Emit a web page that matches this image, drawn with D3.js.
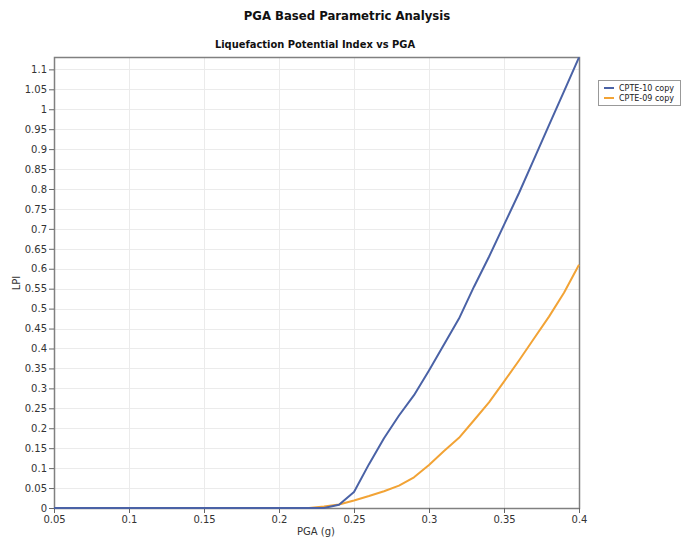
<!DOCTYPE html>
<html>
<head>
<meta charset="utf-8">
<script src="https://cdn.jsdelivr.net/npm/d3@7"></script>
<style>
  html, body { margin: 0; padding: 0; background: #fff; }
  svg { display: block; }
  .tick text { font-family: "DejaVu Sans", Verdana, sans-serif; font-size: 10px; fill: #333; }
</style>
</head>
<body>
<svg id="chart" width="682" height="543"></svg>
<script>
// PGA values (g)
const pga = [0.05, 0.06, 0.07, 0.08, 0.09, 0.10, 0.11, 0.12, 0.13, 0.14, 0.15, 0.16, 0.17, 0.18,
             0.19, 0.20, 0.21, 0.22, 0.23, 0.24, 0.25, 0.26, 0.27, 0.28, 0.29, 0.30, 0.31, 0.32,
             0.33, 0.34, 0.35, 0.36, 0.37, 0.38, 0.39, 0.40];
// LPI for each sounding
const lpiCpte10 = [0, 0, 0, 0, 0, 0, 0, 0, 0, 0, 0, 0, 0, 0,
                   0, 0, 0, 0, 0, 0.008, 0.040, 0.110, 0.175, 0.232, 0.283, 0.345, 0.410, 0.475,
                   0.555, 0.630, 0.710, 0.790, 0.875, 0.960, 1.045, 1.130];
const lpiCpte09 = [0, 0, 0, 0, 0, 0, 0, 0, 0, 0, 0, 0, 0, 0,
                   0, 0, 0, 0, 0.004, 0.009, 0.019, 0.030, 0.042, 0.056, 0.077, 0.108, 0.143, 0.176,
                   0.220, 0.265, 0.317, 0.370, 0.425, 0.480, 0.540, 0.610];
const seriesNames = ["CPTE-10 copy", "CPTE-09 copy"];
const seriesColors = ["#4a62a6", "#f2a335"];
const xTicks = [0.05, 0.1, 0.15, 0.2, 0.25, 0.3, 0.35, 0.4];
const yTicks = d3.range(0, 23).map(i => +(i * 0.05).toFixed(2));

const svg = d3.select("#chart");
const plot = { left: 54, right: 579, top: 57, bottom: 508 };

const x = d3.scaleLinear().domain([0.05, 0.4]).range([plot.left, plot.right]);
const y = d3.scaleLinear().domain([0, 1.131]).range([plot.bottom, plot.top]);

// titles
svg.append("text").attr("x", 347).attr("y", 20).attr("text-anchor", "middle")
  .style("font-family", "Tahoma, 'DejaVu Sans Condensed', 'DejaVu Sans', sans-serif")
  .style("font-size", "13px").style("font-weight", "bold").attr("fill", "#111")
  .text("PGA Based Parametric Analysis");
svg.append("text").attr("x", 315).attr("y", 48).attr("text-anchor", "middle")
  .style("font-family", "Tahoma, 'DejaVu Sans Condensed', 'DejaVu Sans', sans-serif")
  .style("font-size", "11px").style("font-weight", "bold").attr("fill", "#111")
  .text("Liquefaction Potential Index vs PGA");

// grid
const grid = svg.append("g");
grid.selectAll("line.h").data(yTicks.filter(v => v > 0)).join("line")
  .attr("x1", plot.left).attr("x2", plot.right)
  .attr("y1", d => Math.round(y(d)) + 0.5).attr("y2", d => Math.round(y(d)) + 0.5)
  .attr("stroke", "#ebebeb").attr("stroke-width", 1);
grid.selectAll("line.v").data(xTicks.slice(1, -1)).join("line")
  .attr("y1", plot.top).attr("y2", plot.bottom)
  .attr("x1", d => Math.round(x(d)) + 0.5).attr("x2", d => Math.round(x(d)) + 0.5)
  .attr("stroke", "#ebebeb").attr("stroke-width", 1);

// frame
svg.append("rect").attr("x", plot.left + 0.5).attr("y", plot.top + 0.5)
  .attr("width", plot.right - plot.left).attr("height", plot.bottom - plot.top)
  .attr("fill", "none").attr("stroke", "#808080").attr("stroke-width", 1.5);

// axes
const xAxis = svg.append("g").attr("transform", `translate(0,${plot.bottom})`)
  .call(d3.axisBottom(x).tickValues(xTicks).tickSize(5).tickPadding(3).tickFormat(d3.format("")));
const yAxis = svg.append("g").attr("transform", `translate(${plot.left},0)`)
  .call(d3.axisLeft(y).tickValues(yTicks).tickSize(5).tickPadding(2).tickFormat(d3.format("")));
[xAxis, yAxis].forEach(a => {
  a.select(".domain").remove();
  a.selectAll(".tick line").attr("stroke", "#666");
});

// axis labels
svg.append("text").attr("x", 316).attr("y", 535).attr("text-anchor", "middle")
  .style("font-family", "'DejaVu Sans', Verdana, sans-serif").style("font-size", "10px").attr("fill", "#333")
  .text("PGA (g)");
svg.append("text").attr("transform", "translate(20,283) rotate(-90)").attr("text-anchor", "middle")
  .style("font-family", "'DejaVu Sans', Verdana, sans-serif").style("font-size", "10px").attr("fill", "#333")
  .text("LPI");

// series lines
const line = d3.line().x(d => x(d[0])).y(d => y(d[1]));
const series = [lpiCpte09, lpiCpte10];
const seriesIdx = [1, 0];
svg.append("g").selectAll("path").data(series).join("path")
  .attr("d", vals => line(pga.map((p, i) => [p, vals[i]])))
  .attr("fill", "none")
  .attr("stroke", (d, i) => seriesColors[seriesIdx[i]])
  .attr("stroke-width", 2)
  .attr("stroke-linejoin", "round");

// legend
const lg = svg.append("g").attr("transform", "translate(598,80)");
lg.append("rect").attr("x", 0.5).attr("y", 0.5).attr("width", 82).attr("height", 25)
  .attr("fill", "#fff").attr("stroke", "#999");
seriesNames.forEach((name, i) => {
  lg.append("line").attr("x1", 6).attr("x2", 16).attr("y1", 8 + i * 10).attr("y2", 8 + i * 10)
    .attr("stroke", seriesColors[i]).attr("stroke-width", 2);
  lg.append("text").attr("x", 21).attr("y", 11 + i * 10)
    .style("font-family", "'DejaVu Sans', Verdana, sans-serif").style("font-size", "8px").attr("fill", "#222")
    .text(name);
});
</script>
</body>
</html>
